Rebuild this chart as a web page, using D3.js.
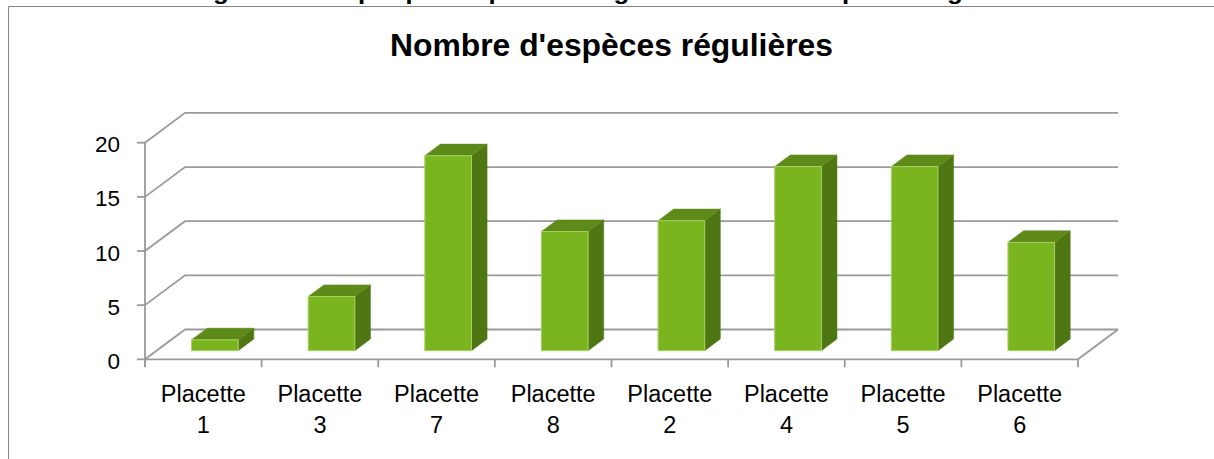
<!DOCTYPE html>
<html lang="fr">
<head>
<meta charset="utf-8">
<title>Nombre d'espèces régulières</title>
<script src="https://cdn.jsdelivr.net/npm/d3@7"></script>
<style>
  html, body { margin: 0; padding: 0; background: #ffffff; }
  svg { display: block; font-family: "Liberation Sans", Arial, sans-serif; }
</style>
</head>
<body>
<svg id="chart" width="1214" height="459"></svg>
<script>
// Data
const categories = ["Placette 1", "Placette 3", "Placette 7", "Placette 8",
                    "Placette 2", "Placette 4", "Placette 5", "Placette 6"];
const values = [1, 5, 18, 11, 12, 17, 17, 10];
const yTicks = [0, 5, 10, 15, 20];
const chartTitle = "Nombre d'espèces régulières";
const caption = "Figure 9 : Graphique du pourcentage du nombre d'espèces régulières";

// Layout
const W = 1214, H = 459;
const plot = { left: 145, right: 1078, bottom: 359.3, top: 142.7 };
const DX = 40, DY = -29.8;            // depth of the 3D floor / walls
const depthFront = 0.29, depthBack = 0.68; // bar placement inside the depth
const gridColor = "#9a9a9a";
const colFront = "#7ab51f", colTop = "#5e8a1a", colSide = "#4e7613", colEdge = "#a3d062";

const svg = d3.select("#chart");

// Outer frame of the chart object
svg.append("path")
  .attr("d", `M8.5,${H} L8.5,6.5 L${W},6.5`)
  .attr("fill", "none").attr("stroke", "#868686").attr("stroke-width", 1);

// Document caption above the chart frame (only its lower part falls inside the page)
svg.append("text")
  .attr("x", 190).attr("y", -1.5)
  .attr("font-weight", "bold").attr("font-size", 22)
  .attr("textLength", 856).attr("lengthAdjust", "spacingAndGlyphs")
  .attr("fill", "#000")
  .text(caption);

// Title
svg.append("text")
  .attr("x", 611.5).attr("y", 56)
  .attr("text-anchor", "middle")
  .attr("font-weight", "bold").attr("font-size", 31)
  .attr("textLength", 443).attr("lengthAdjust", "spacingAndGlyphs")
  .attr("fill", "#000")
  .text(chartTitle);

// Scales
const x = d3.scaleBand().domain(categories)
  .range([plot.left, plot.right]).paddingInner(0.6).paddingOuter(0.3);
const y = d3.scaleLinear().domain([0, 20]).range([plot.bottom, plot.top]);
const step = x.step(), bw = x.bandwidth();

const grid = svg.append("g").attr("fill", "none")
  .attr("stroke", gridColor).attr("stroke-width", 1.8);

// Side wall diagonals + back wall gridlines
grid.selectAll("path.gl").data(yTicks).join("path").attr("class", "gl")
  .attr("d", t => `M${plot.left},${y(t)} L${plot.left + DX},${y(t) + DY} L${plot.right + DX},${y(t) + DY}`);

// Floor front edge and right edge
grid.append("path")
  .attr("d", `M${plot.left},${y(0)} L${plot.right},${y(0)} L${plot.right + DX},${y(0) + DY}`);

// Vertical value axis
grid.append("path").attr("d", `M${plot.left},${y(20)} L${plot.left},${y(0) + 7}`);

// Value axis ticks
grid.selectAll("path.yt").data(yTicks).join("path").attr("class", "yt")
  .attr("d", t => `M${plot.left - 8},${y(t)} L${plot.left},${y(t)}`);

// Category boundary ticks
const bounds = categories.map(c => x(c) - x.paddingOuter() * step).concat([plot.right]);
grid.selectAll("path.xt").data(bounds).join("path").attr("class", "xt")
  .attr("d", b => `M${b},${y(0)} L${b},${y(0) + 8}`);

// Value labels
svg.append("g").selectAll("text").data(yTicks).join("text")
  .attr("x", 120).attr("y", t => y(t) + 2)
  .attr("text-anchor", "end").attr("dominant-baseline", "central")
  .attr("font-size", 22.5).attr("fill", "#000")
  .text(d => d);

// Category labels (two lines)
const catLabels = svg.append("g").selectAll("text").data(categories).join("text")
  .attr("text-anchor", "middle").attr("font-size", 23.5).attr("fill", "#000");
catLabels.each(function (c) {
  const cx = x(c) + bw / 2;
  const parts = c.split(" ");
  const t = d3.select(this);
  t.append("tspan").attr("x", cx).attr("y", 402).text(parts[0]);
  t.append("tspan").attr("x", cx).attr("y", 433).text(parts[1]);
});

// 3D bars
const fdx = DX * depthFront, fdy = DY * depthFront;
const bdx = DX * (depthBack - depthFront), bdy = DY * (depthBack - depthFront);
const bars = svg.append("g").selectAll("g").data(categories.map((c, i) => ({ c, v: values[i] })))
  .join("g");

bars.each(function (d) {
  const g = d3.select(this);
  const x0 = x(d.c) + fdx, x1 = x0 + bw;
  const base = y(0) + fdy, top = y(d.v) + fdy;
  // side face
  g.append("path")
    .attr("d", `M${x1},${top} L${x1 + bdx},${top + bdy} L${x1 + bdx},${base + bdy} L${x1},${base} Z`)
    .attr("fill", colSide).attr("stroke", colSide).attr("stroke-width", 0.5);
  // top face
  g.append("path")
    .attr("d", `M${x0},${top} L${x0 + bdx},${top + bdy} L${x1 + bdx},${top + bdy} L${x1},${top} Z`)
    .attr("fill", colTop).attr("stroke", colTop).attr("stroke-width", 0.5);
  // front face
  g.append("rect")
    .attr("x", x0).attr("y", top).attr("width", bw).attr("height", base - top)
    .attr("fill", colFront).attr("stroke", colEdge).attr("stroke-width", 1);
});
</script>
</body>
</html>
